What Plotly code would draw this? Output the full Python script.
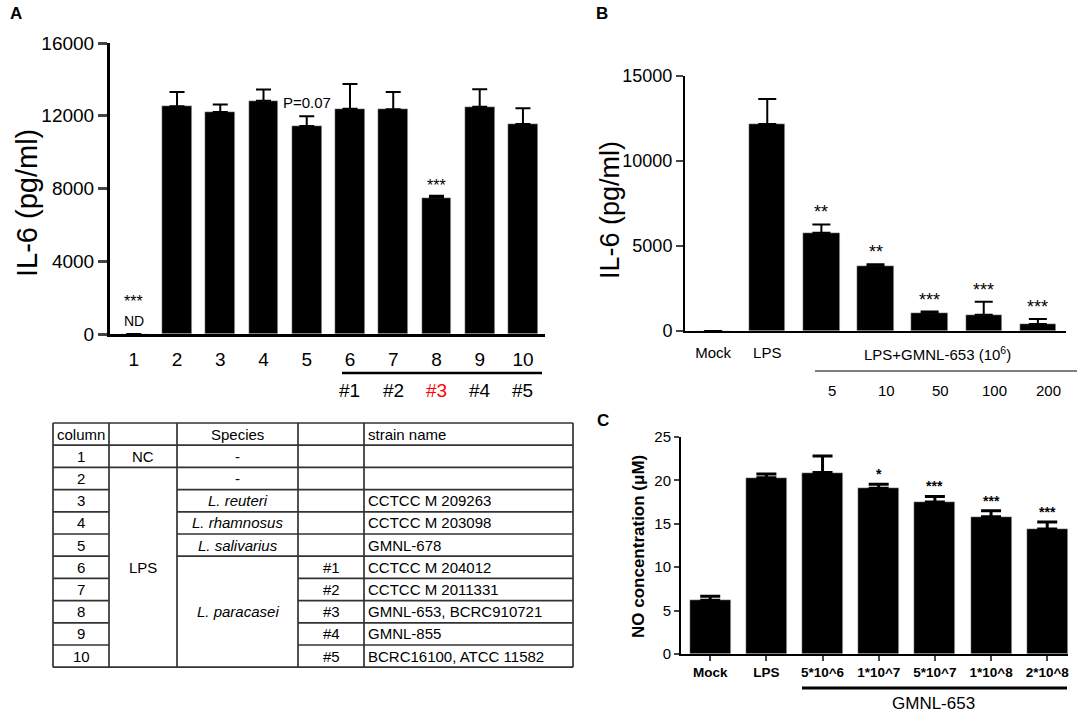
import plotly.graph_objects as go

W, H = 1084, 713

# ---- panel A data ----
a_cols = ["1", "2", "3", "4", "5", "6", "7", "8", "9", "10"]
a_il6 = [0, 12520, 12210, 12820, 11440, 12380, 12360, 7500, 12490, 11550]
a_sd = [0, 790, 410, 620, 530, 1360, 950, 100, 970, 860]
a_strain_ids = ["#1", "#2", "#3", "#4", "#5"]

# ---- panel B data ----
b_groups = ["Mock", "LPS", "5", "10", "50", "100", "200"]
b_il6 = [0, 12180, 5780, 3840, 1080, 960, 410]
b_sd = [0, 1470, 490, 80, 60, 760, 300]
b_stars = ["", "", "**", "**", "***", "***", "***"]

# ---- panel C data ----
c_groups = ["Mock", "LPS", "5*10^6", "1*10^7", "5*10^7", "1*10^8", "2*10^8"]
c_no = [6.2, 20.3, 20.9, 19.1, 17.5, 15.8, 14.4]
c_sd = [0.45, 0.45, 1.9, 0.45, 0.65, 0.7, 0.8]
c_stars = ["", "", "", "*", "***", "***", "***"]

# ---- table data ----
tbl_header = ["column", "", "Species", "", "strain name"]
tbl_column = ["1", "2", "3", "4", "5", "6", "7", "8", "9", "10"]
tbl_group = [("NC", 1), ("LPS", 9)]
tbl_species = [("-", 1), ("-", 1), ("<i>L. reuteri</i>", 1), ("<i>L. rhamnosus</i>", 1),
               ("<i>L. salivarius</i>", 1), ("<i>L. paracasei</i>", 5)]
tbl_no = ["", "", "", "", "", "#1", "#2", "#3", "#4", "#5"]
tbl_strain = ["", "", "CCTCC M 209263", "CCTCC M 203098", "GMNL-678", "CCTCC M 204012",
              "CCTCC M 2011331", "GMNL-653, BCRC910721", "GMNL-855", "BCRC16100, ATCC 11582"]

FONT = "Liberation Sans, Arial, sans-serif"


def px(x):
    return x / W


def py(y):
    return 1 - y / H


ann = []
shapes = []


def note(text, x, y, xref="paper", yref="paper", size=15, color="black", **kw):
    d = dict(text=text, x=x, y=y, xref=xref, yref=yref, showarrow=False,
             xanchor="center", yanchor="middle", font=dict(size=size, color=color, family=FONT))
    d.update(kw)
    ann.append(d)


def hline(x0, x1, y, color="black", width=2):
    shapes.append(dict(type="line", xref="paper", yref="paper", x0=px(x0), x1=px(x1), y0=py(y), y1=py(y),
                       line=dict(color=color, width=width)))


fig = go.Figure()

fig.add_trace(go.Bar(x=a_cols, y=a_il6, marker_color="black", width=0.69,
                     error_y=dict(type="data", array=a_sd, arrayminus=[0] * len(a_sd), symmetric=False,
                                  color="black", thickness=2, width=7.5),
                     xaxis="x", yaxis="y"))
fig.add_trace(go.Bar(x=b_groups, y=b_il6, marker_color="black", width=0.67,
                     error_y=dict(type="data", array=b_sd, arrayminus=[0] * len(b_sd), symmetric=False,
                                  color="black", thickness=2, width=9),
                     xaxis="x2", yaxis="y2"))
fig.add_trace(go.Bar(x=c_groups, y=c_no, marker_color="black", width=0.73,
                     error_y=dict(type="data", array=c_sd, arrayminus=[0] * len(c_sd), symmetric=False,
                                  color="black", thickness=3, width=10),
                     xaxis="x3", yaxis="y3"))

# panel letters
for letter, x, y in [("A", 16, 14), ("B", 602, 13), ("C", 603, 420)]:
    note("<b>%s</b>" % letter, px(x), py(y), size=17)

# y titles
note("IL-6 (pg/ml)", px(27), py(203), size=29, textangle=-90)
note("IL-6 (pg/ml)", px(610), py(210), size=27, textangle=-90)
note("<b>NO concentration (\u03bcM)</b>", px(638), py(547), size=17, textangle=-90)

# panel A annotations (category index used for x)
note("P=0.07", 4, a_il6[4] + a_sd[4], "x", "y", size=15, yanchor="bottom", yshift=3)
note("***", 7, a_il6[7] + a_sd[7], "x", "y", size=16, yanchor="bottom", yshift=0)
note("***", 0, 0, "x", "y", size=16, yanchor="bottom", yshift=22)
note("ND", 0, 0, "x", "y", size=14, yanchor="bottom", yshift=3)
for i, sid in enumerate(a_strain_ids):
    note(sid, 5 + i, py(391), "x", "paper", size=19, color="red" if sid == "#3" else "black")
hline(342, 542, 373, width=2.5)

# panel B annotations
for i, (v, s, st) in enumerate(zip(b_il6, b_sd, b_stars)):
    if st:
        note(st, i, v + s, "x2", "y2", size=18, yanchor="bottom", yshift=0)
for i in range(2, len(b_groups)):
    note(b_groups[i], i, py(390), "x2", "paper", size=15, xshift=11)
note("LPS+GMNL-653 (10<sup>6</sup>)", px(937), py(353), size=15)
hline(815, 1077, 371, color="#555555", width=1.5)

# panel C annotations
for i, (v, s, st) in enumerate(zip(c_no, c_sd, c_stars)):
    if st:
        note("<b>%s</b>" % st, i, v + s, "x3", "y3", size=14, yanchor="bottom", yshift=0)
hline(802, 1067, 688, width=3)
note("GMNL-653", px(933), py(703), size=17)

# ---- table (drawn with lines so merged cells stay merged) ----
col_x = [53, 109, 177, 298, 364, 573]
row_y0, row_h = 423, 22.2
n_rows = len(tbl_column) + 1
row_y = [row_y0 + i * row_h for i in range(n_rows + 1)]


def spans_to_rows(spans):
    out, r = [], 0
    for text, span in spans:
        out.append((text, r, span))
        r += span
    return out


group_cells = spans_to_rows(tbl_group)
species_cells = spans_to_rows(tbl_species)


def internal_boundaries(cells):
    b = set()
    for _, start, span in cells:
        for k in range(1, span):
            b.add(start + k)
    return b


skip = {1: internal_boundaries(group_cells), 2: internal_boundaries(species_cells)}
line_style = dict(color="#333333", width=1.7)
for xc in col_x:
    shapes.append(dict(type="line", xref="paper", yref="paper", x0=px(xc), x1=px(xc),
                       y0=py(row_y[0]), y1=py(row_y[-1]), line=line_style))
for ri, yr in enumerate(row_y):
    data_row = ri - 1
    for ci in range(5):
        if ci in skip and data_row in skip[ci]:
            continue
        shapes.append(dict(type="line", xref="paper", yref="paper", x0=px(col_x[ci]), x1=px(col_x[ci + 1]),
                           y0=py(yr), y1=py(yr), line=line_style))


def cell_text(text, ci, r0, span, align="center"):
    yc = (row_y[r0] + row_y[r0 + span]) / 2
    if align == "left":
        note(text, px(col_x[ci] + 2), py(yc), xanchor="left")
    else:
        note(text, px((col_x[ci] + col_x[ci + 1]) / 2), py(yc))


for ci, h in enumerate(tbl_header):
    if h:
        cell_text(h, ci, 0, 1, "center" if h == "Species" else "left")
for i in range(len(tbl_column)):
    cell_text(tbl_column[i], 0, i + 1, 1)
    if tbl_no[i]:
        cell_text(tbl_no[i], 3, i + 1, 1)
    if tbl_strain[i]:
        cell_text(tbl_strain[i], 4, i + 1, 1, "left")
for text, start, span in group_cells:
    cell_text(text, 1, start + 1, span)
for text, start, span in species_cells:
    cell_text(text, 2, start + 1, span)

axis_common = dict(showgrid=False, zeroline=False, showline=True, linecolor="black", automargin=False)

fig.update_layout(
    width=W, height=H, autosize=False, showlegend=False,
    margin=dict(l=0, r=0, t=0, b=0, pad=0),
    paper_bgcolor="white", plot_bgcolor="white",
    font=dict(family=FONT, color="black"),
    bargap=0,
    xaxis=dict(domain=[px(110), px(545)], anchor="y", range=[-0.55, 9.51], linewidth=3,
               ticks="outside", ticklen=6, tickcolor="rgba(0,0,0,0)", tickfont=dict(size=19), **axis_common),
    yaxis=dict(domain=[py(334), py(43)], anchor="x", range=[0, 16000], linewidth=3,
               tickvals=[0, 4000, 8000, 12000, 16000], tickformat="d", ticks="outside", ticklen=9, tickwidth=3,
               tickfont=dict(size=19), **axis_common),
    xaxis2=dict(domain=[px(685), px(1066)], anchor="y2", range=[-0.52, 6.52], linewidth=2,
                tickvals=b_groups[:2], ticktext=b_groups[:2], ticks="outside", ticklen=7,
                tickcolor="rgba(0,0,0,0)", tickfont=dict(size=15), **axis_common),
    yaxis2=dict(domain=[py(331), py(76)], anchor="x2", range=[0, 15000], linewidth=2,
                tickvals=[0, 5000, 10000, 15000], tickformat="d", ticks="outside", ticklen=7, tickwidth=2,
                tickfont=dict(size=18), **axis_common),
    xaxis3=dict(domain=[px(681), px(1068)], anchor="y3", range=[-0.52, 6.37], linewidth=2,
                ticks="outside", ticklen=5, tickwidth=2, tickfont=dict(size=13.5), tickprefix="<b>",
                ticksuffix="</b>", **axis_common),
    yaxis3=dict(domain=[py(654), py(437)], anchor="x3", range=[0, 25], linewidth=2,
                tickvals=[0, 5, 10, 15, 20, 25], ticks="outside", ticklen=5, tickwidth=2,
                tickfont=dict(size=15), tickprefix="<b>", ticksuffix="</b>", **axis_common),
    annotations=ann,
    shapes=shapes,
)

# the page's default body margin would push the figure 8px off the window
fig.write_html("out.html", config={"displayModeBar": False},
               post_script="document.body.style.margin='0px';")
